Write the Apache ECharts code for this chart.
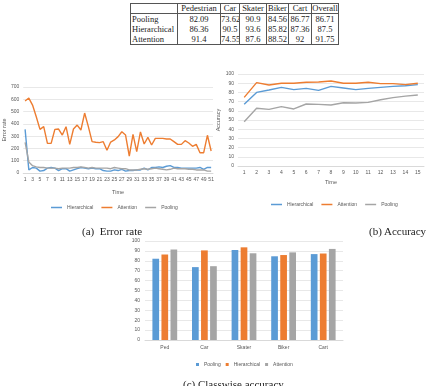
<!DOCTYPE html>
<html>
<head>
<meta charset="utf-8">
<script src="https://cdn.jsdelivr.net/npm/echarts@6/dist/echarts.min.js"></script>
<style>
  body { margin: 0; background: #fff; }
  #page { position: relative; width: 427px; height: 386px; overflow: hidden; }
  .layer { position: absolute; left: 0; top: 0; width: 427px; height: 386px; }
  .cap { position: absolute; font-family: 'Liberation Serif', serif; font-size: 11px; color: #222; white-space: nowrap; }
  table.res { position: absolute; left: 130px; top: 3px; width: 208px; table-layout: fixed; border-collapse: collapse; font-family: 'Liberation Serif', serif; font-size: 8.5px; color: #222; border: 1px solid #555; }
  table.res td { padding: 0; border-left: 1px solid #555; height: 10px; line-height: 9px; text-align: center; white-space: nowrap; overflow: hidden; }
  table.res tr.head td { border-bottom: 1px solid #555; height: 8px; }
  table.res td.lab { text-align: left; padding-left: 1px; }
</style>
</head>
<body>
<div id="page">
  <table class="res" id="tbl"></table>
  <div id="err" class="layer"></div>
  <div id="acc" class="layer"></div>
  <div id="cls" class="layer"></div>
  <div class="cap" style="left:82px; top:225px;">(a)&nbsp; Error rate</div>
  <div class="cap" style="left:369px; top:225px;">(b) Accuracy</div>
  <div class="cap" style="left:183px; top:378px;">(c) Classwise accuracy</div>
</div>
<script>
// 表格
const tableCols = ['Pedestrian', 'Car', 'Skater', 'Biker', 'Cart', 'Overall']
const tableRows = ['Pooling', 'Hierarchical', 'Attention']
const poolingRow = ['82.09', '73.62', '90.9', '84.56', '86.77', '86.71']
const hierRow = ['86.36', '90.5', '93.6', '85.82', '87.36', '87.5']
const attnRow = ['91.4', '74.55', '87.6', '88.52', '92', '91.75']

// (a) error rate
const errHier = [355, 25, 45, 40, 15, 20, 40, 45, 40, 20, 35, 35, 15, 25, 35, 45, 40, 35, 40, 35, 35, 20, 15, 15, 25, 20, 30, 15, 20, 20, 25, 25, 40, 25, 45, 45, 50, 45, 55, 60, 45, 45, 40, 40, 40, 40, 40, 45, 30, 45, 45]
const errAttn = [586, 610, 553, 458, 355, 377, 241, 241, 355, 358, 309, 377, 233, 358, 390, 350, 488, 377, 255, 250, 247, 255, 185, 252, 269, 296, 336, 309, 138, 315, 174, 334, 236, 290, 228, 282, 282, 282, 277, 277, 255, 233, 233, 263, 244, 217, 233, 165, 165, 307, 179]
const errPool = [250, 90, 60, 50, 45, 45, 40, 40, 40, 35, 40, 40, 40, 45, 45, 50, 45, 40, 45, 40, 40, 40, 40, 35, 45, 40, 35, 35, 25, 25, 25, 30, 35, 30, 35, 40, 35, 30, 25, 30, 40, 35, 35, 35, 30, 30, 25, 25, 25, 15, 15]

// (b) accuracy
const accHier = [67, 80, 82.6, 85.5, 83, 84.4, 82.2, 86.6, 84.8, 83, 84.4, 85.5, 86.6, 87.3, 88.4]
const accAttn = [74.6, 90.6, 88, 89.9, 90, 91, 91.3, 92.4, 90, 90, 91, 89.5, 89.5, 88.4, 90]
const accPool = [48.2, 62.7, 61.6, 64.5, 62, 67.4, 67, 66.3, 68.8, 68.5, 69.2, 72, 74.3, 76, 77.2]

// (c) classwise
const classCats = ['Ped', 'Car', 'Skater', 'Biker', 'Cart']
const clsPool = [82.09, 73.62, 90.9, 84.56, 86.77]
const clsHier = [86.36, 90.5, 93.6, 85.82, 87.36]
const clsAttn = [91.4, 74.55, 87.6, 88.52, 92]

const BLUE = '#5B9BD5'
const ORANGE = '#ED7D31'
const GRAY = '#A5A5A5'
const LABEL = '#595959'
const GRID = '#D9D9D9'
const FONT = 'Liberation Sans'

// 表格生成
const colWidths = [47, 43, 19, 27, 22, 23, 27]
const tbl = document.getElementById('tbl')
let html = '<colgroup>' + colWidths.map(w => `<col style="width:${w}px">`).join('') + '</colgroup>'
html += '<tr class="head"><td class="lab"></td>' + tableCols.map(c => `<td>${c}</td>`).join('') + '</tr>'
const rowVals = [poolingRow, hierRow, attnRow]
tableRows.forEach((r, i) => {
  html += `<tr><td class="lab">${r}</td>` + rowVals[i].map(v => `<td>${v}</td>`).join('') + '</tr>'
})
tbl.innerHTML = html

const seq = n => Array.from({ length: n }, (_, i) => String(i + 1))

const lineAxes = (grid, n, interval, yMax, yInt, yName, nameGapX, nameGapY) => ({
  grid,
  xAxis: {
    type: 'category',
    data: seq(n),
    boundaryGap: true,
    name: 'Time',
    nameLocation: 'middle',
    nameGap: nameGapX,
    nameTextStyle: { fontSize: 5.5, color: LABEL, fontFamily: FONT },
    axisLine: { lineStyle: { color: GRID } },
    axisTick: { show: false },
    axisLabel: { interval, fontSize: 5, color: LABEL, margin: 4, fontFamily: FONT }
  },
  yAxis: {
    type: 'value',
    min: 0,
    max: yMax,
    interval: yInt,
    name: yName,
    nameLocation: 'middle',
    nameGap: nameGapY,
    nameRotate: 90,
    nameTextStyle: { fontSize: 5.5, color: LABEL, fontFamily: FONT },
    axisLine: { show: false },
    axisTick: { show: false },
    axisLabel: { fontSize: 5, color: LABEL, margin: 4, fontFamily: FONT },
    splitLine: { lineStyle: { color: GRID, width: 0.6 } }
  }
})

const lineSeries = (name, data, color) => ({
  name,
  type: 'line',
  data,
  symbol: 'none',
  lineStyle: { color, width: 1.4 },
  itemStyle: { color },
  animation: false
})

const lineLegend = (top, left) => ({
  top,
  left,
  icon: 'rect',
  itemWidth: 11,
  itemHeight: 1.5,
  itemGap: 8,
  textStyle: { fontSize: 5, color: LABEL, fontFamily: FONT }
})

const errChart = echarts.init(document.getElementById('err'))
errChart.setOption({
  ...lineAxes({ left: 20, top: 87, width: 193, height: 86 }, 51, 1, 700, 100, 'Error rate', 16, 13),
  legend: lineLegend(200, 46),
  series: [
    lineSeries('Hierarchical', errHier, BLUE),
    lineSeries('Attention', errAttn, ORANGE),
    lineSeries('Pooling', errPool, GRAY)
  ]
})

const accChart = echarts.init(document.getElementById('acc'))
accChart.setOption({
  ...lineAxes({ left: 238, top: 74, width: 186, height: 92 }, 15, 0, 100, 10, 'Accuracy', 13, 14),
  legend: lineLegend(197, 266),
  series: [
    lineSeries('Hierarchical', accHier, BLUE),
    lineSeries('Attention', accAttn, ORANGE),
    lineSeries('Pooling', accPool, GRAY)
  ]
})

const barSeries = (name, data, color) => ({
  name,
  type: 'bar',
  data,
  barWidth: 6.7,
  barGap: '35%',
  itemStyle: { color },
  animation: false
})

const clsChart = echarts.init(document.getElementById('cls'))
clsChart.setOption({
  grid: { left: 145, top: 241, width: 198, height: 99 },
  xAxis: {
    type: 'category',
    data: classCats,
    axisLine: { lineStyle: { color: GRID } },
    axisTick: { show: false },
    axisLabel: { fontSize: 5, color: LABEL, margin: 5, fontFamily: FONT }
  },
  yAxis: {
    type: 'value',
    min: 0,
    max: 100,
    interval: 10,
    axisLine: { show: false },
    axisTick: { show: false },
    axisLabel: { fontSize: 5, color: LABEL, margin: 5, fontFamily: FONT },
    splitLine: { lineStyle: { color: GRID, width: 0.6 } }
  },
  legend: {
    top: 357,
    left: 191,
    icon: 'rect',
    itemWidth: 3,
    itemHeight: 3,
    itemGap: 5,
    textStyle: { fontSize: 5, color: LABEL, fontFamily: FONT }
  },
  series: [
    barSeries('Pooling', clsPool, BLUE),
    barSeries('Hierarchical', clsHier, ORANGE),
    barSeries('Attention', clsAttn, GRAY)
  ]
})
</script>
</body>
</html>
